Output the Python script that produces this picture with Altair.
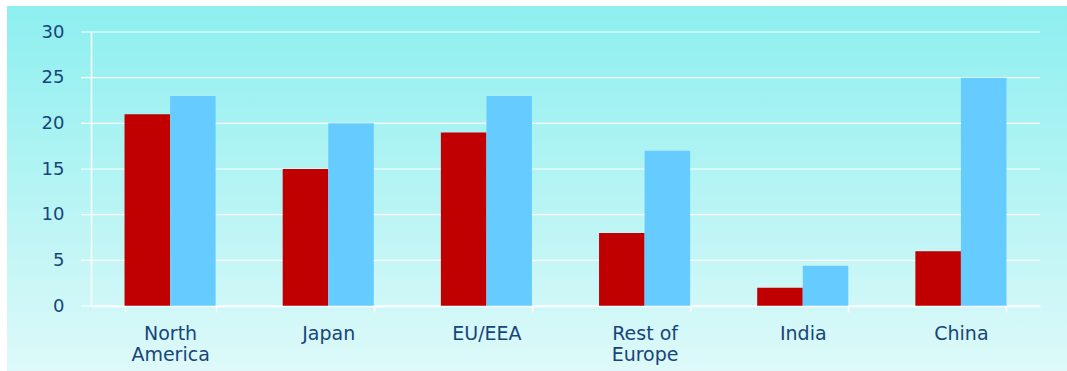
import altair as alt
import pandas as pd

categories = ["North America", "Japan", "EU/EEA", "Rest of Europe", "India", "China"]
series_names = ["Series A", "Series B"]
values_a = [21, 15, 19, 8, 2, 6]
values_b = [23, 20, 23, 17, 4.4, 25]
y_ticks = [0, 5, 10, 15, 20, 25, 30]

rows = []
for c, a, b in zip(categories, values_a, values_b):
    rows.append({"category": c, "series": series_names[0], "value": a})
    rows.append({"category": c, "series": series_names[1], "value": b})
df = pd.DataFrame(rows)
grid_df = pd.DataFrame({"v": y_ticks})

W, H = 949, 274
PL, PT, PR, PB = 91, 32, 27, 65
TEXT = "#17457A"
FONT = "DejaVu Sans"

yscale = alt.Scale(domain=[0, 30], nice=False)

bg = alt.Chart(pd.DataFrame({"a": [0]})).mark_rect(
    color=alt.LinearGradient(
        gradient="linear", x1=0, x2=0, y1=0, y2=1,
        stops=[alt.GradientStop(color="#8DEFEF", offset=0),
               alt.GradientStop(color="#DEF9F9", offset=1)],
    )
).encode(
    x=alt.value(7 - PL), x2=alt.value(1067 - PL),
    y=alt.value(6 - PT), y2=alt.value(371 - PT),
)

grid = alt.Chart(grid_df).mark_rule(color="white", strokeWidth=1.2).encode(
    y=alt.Y("v:Q", scale=yscale),
    x=alt.value(-10), x2=alt.value(W),
)

bars = alt.Chart(df).mark_bar().encode(
    x=alt.X("category:N", sort=categories, title=None,
            scale=alt.Scale(paddingInner=0.424, paddingOuter=0.212),
            axis=alt.Axis(
                labelAngle=0, labelFont=FONT, labelFontSize=19, labelColor=TEXT,
                labelExpr="datum.label == 'North America' ? ['North', 'America'] : datum.label == 'Rest of Europe' ? ['Rest of', 'Europe'] : datum.label",
                labelLineHeight=21, labelPadding=12, labelBaseline="top",
                tickBand="extent", tickColor="white", tickSize=6, tickWidth=1.5,
                domainColor="white", domainWidth=1.5, grid=False, zindex=1,
            )),
    xOffset=alt.XOffset("series:N", sort=series_names,
                        scale=alt.Scale(paddingInner=0, paddingOuter=0)),
    y=alt.Y("value:Q", scale=yscale, title=None,
            axis=alt.Axis(values=y_ticks, labelFont=FONT, labelFontSize=18,
                          labelColor=TEXT, ticks=False, labelPadding=27,
                          domainColor="white", domainWidth=1.5, grid=False,
                          zindex=1)),
    color=alt.Color("series:N", sort=series_names, legend=None,
                    scale=alt.Scale(domain=series_names, range=["#C00000", "#66CCFF"])),
)

chart = alt.layer(bg, grid, bars).properties(
    width=W, height=H,
    padding={"left": PL, "top": PT, "right": PR, "bottom": PB},
    autosize=alt.AutoSizeParams(type="none"),
    background="white",
).configure_view(stroke=None)

chart.save("out.html", embed_options={"renderer": "svg", "actions": False})
